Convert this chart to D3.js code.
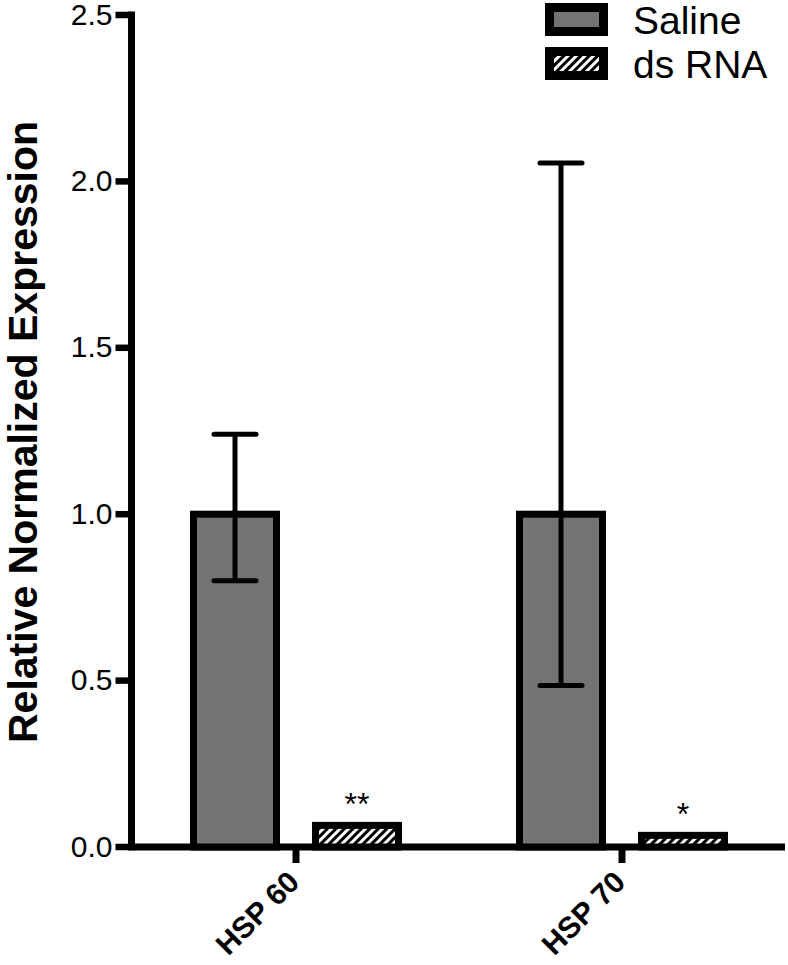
<!DOCTYPE html>
<html>
<head>
<meta charset="utf-8">
<script src="https://cdn.jsdelivr.net/npm/d3@7"></script>
<style>
  body { margin: 0; background: #fff; }
  svg { display: block; }
  text { font-family: "Liberation Sans", Arial, sans-serif; }
</style>
</head>
<body>
<div id="chart"></div>
<script>
// data
const genes = ['HSP 60', 'HSP 70'];
const groups = ['Saline', 'ds RNA'];
const salineMean = [1.0, 1.0];
const salineUpper = [1.24, 2.055];
const salineLower = [0.80, 0.485];
const dsrnaMean = [0.065, 0.035];
const stars = ['**', '*'];
const yTicks = [0, 0.5, 1.0, 1.5, 2.0, 2.5];

(function() {
  const width = 788;
  const height = 965;
  const gray = '#737373';

  const svg = d3.select('#chart')
    .append('svg')
    .attr('width', width)
    .attr('height', height);

  // hatch for ds RNA bars
  svg.append('defs')
    .append('pattern')
    .attr('id', 'hatch')
    .attr('patternUnits', 'userSpaceOnUse')
    .attr('width', 6)
    .attr('height', 6)
    .attr('patternTransform', 'rotate(45)')
    .call(p => {
      p.append('rect').attr('width', 6).attr('height', 6).attr('fill', '#fff');
      p.append('rect').attr('width', 3).attr('height', 6).attr('fill', '#000');
    });

  const y = d3.scaleLinear().domain([0, 2.5]).range([847, 15]);
  const x0 = d3.scaleBand().domain(genes).range([133, 785]);
  const xSub = d3.scalePoint().domain(groups).range([-61, 61]);
  const barW = 83;
  const cx = (g, s) => x0(g) + x0.bandwidth() / 2 + xSub(s);

  // x axis
  const xAxis = svg.append('g')
    .attr('transform', 'translate(0,847)')
    .call(d3.axisBottom(x0).tickSize(16).tickSizeOuter(0).offset(0));
  xAxis.select('.domain').attr('stroke-width', 7);
  xAxis.selectAll('.tick line').attr('stroke-width', 7);
  xAxis.selectAll('.tick text')
    .attr('x', 0).attr('y', 0).attr('dy', 0)
    .attr('transform', 'translate(5,37) rotate(-45)')
    .attr('text-anchor', 'end')
    .attr('font-size', 30)
    .attr('font-weight', 'bold')
    .attr('fill', '#000')
    .attr('font-family', '"Liberation Sans", Arial, sans-serif');

  // y axis
  const yAxis = svg.append('g')
    .attr('transform', 'translate(131.5,0)')
    .call(d3.axisLeft(y).tickValues(yTicks).tickFormat(d3.format('.1f'))
      .tickSize(16).tickSizeOuter(0).tickPadding(3).offset(0));
  yAxis.select('.domain').attr('stroke-width', 7).attr('stroke-linecap', 'square');
  yAxis.selectAll('.tick line').attr('stroke-width', 6.5);
  yAxis.selectAll('.tick text')
    .attr('font-size', 30)
    .attr('fill', '#000')
    .attr('font-family', '"Liberation Sans", Arial, sans-serif');

  // y title
  svg.append('text')
    .attr('transform', 'translate(37,432) rotate(-90)')
    .attr('text-anchor', 'middle')
    .attr('font-size', 41)
    .attr('font-weight', 'bold')
    .text('Relative Normalized Expression');

  // saline bars
  svg.selectAll('.saline')
    .data(genes)
    .enter()
    .append('rect')
    .attr('x', g => cx(g, 'Saline') - barW / 2)
    .attr('y', (g, i) => y(salineMean[i]))
    .attr('width', barW)
    .attr('height', (g, i) => y(0) - y(salineMean[i]))
    .attr('fill', gray)
    .attr('stroke', '#000')
    .attr('stroke-width', 7);

  // ds RNA bars
  svg.selectAll('.dsrna')
    .data(genes)
    .enter()
    .append('rect')
    .attr('x', g => cx(g, 'ds RNA') - barW / 2)
    .attr('y', (g, i) => y(dsrnaMean[i]))
    .attr('width', barW)
    .attr('height', (g, i) => y(0) - y(dsrnaMean[i]))
    .attr('fill', 'url(#hatch)')
    .attr('stroke', '#000')
    .attr('stroke-width', 7);

  // error bars on saline
  const err = svg.selectAll('.err')
    .data(genes)
    .enter()
    .append('g')
    .attr('stroke', '#000')
    .attr('stroke-width', 5);
  err.append('line')
    .attr('x1', g => cx(g, 'Saline')).attr('x2', g => cx(g, 'Saline'))
    .attr('y1', (g, i) => y(salineUpper[i])).attr('y2', (g, i) => y(salineLower[i]));
  err.append('line')
    .attr('stroke-linecap', 'round')
    .attr('x1', g => cx(g, 'Saline') - 21).attr('x2', g => cx(g, 'Saline') + 21)
    .attr('y1', (g, i) => y(salineUpper[i])).attr('y2', (g, i) => y(salineUpper[i]));
  err.append('line')
    .attr('stroke-linecap', 'round')
    .attr('x1', g => cx(g, 'Saline') - 21).attr('x2', g => cx(g, 'Saline') + 21)
    .attr('y1', (g, i) => y(salineLower[i])).attr('y2', (g, i) => y(salineLower[i]));

  // significance stars
  svg.selectAll('.star')
    .data(genes)
    .enter()
    .append('text')
    .attr('x', g => cx(g, 'ds RNA'))
    .attr('y', (g, i) => y(dsrnaMean[i]) - 10)
    .attr('text-anchor', 'middle')
    .attr('font-size', 32)
    .text((g, i) => stars[i]);

  // legend
  const legend = svg.selectAll('.legend')
    .data(groups)
    .enter()
    .append('g')
    .attr('transform', (d, i) => `translate(545,${3 + i * 44})`);
  legend.append('rect')
    .attr('x', 4.5).attr('y', 4.5)
    .attr('width', 54).attr('height', 24)
    .attr('fill', (d, i) => i === 0 ? gray : 'url(#hatch)')
    .attr('stroke', '#000')
    .attr('stroke-width', 9);
  legend.append('text')
    .attr('x', 88)
    .attr('y', 31)
    .attr('font-size', 39)
    .text(d => d);
})();
</script>
</body>
</html>
